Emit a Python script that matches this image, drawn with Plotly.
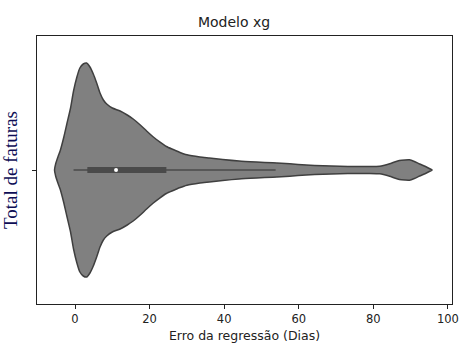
import plotly.graph_objects as go

# Violin outline: x (error, days) and half-width (density, px units)
dens_x = [-5.5, -5.2, -4.5, -4.0, -3.0, -2.2, -1.2, -0.4, 0.5, 1.3, 2.2, 3.1, 4.0, 4.9, 5.8,
          6.7, 7.6, 8.5, 10.0, 12.1, 14.0, 15.6, 17.5, 19.2, 21.0, 22.8, 24.5, 26.3, 28.0,
          30.0, 33.5, 36.0, 39.6, 44.0, 48.7, 53.0, 57.6, 62.0, 66.5, 71.0, 75.4, 79.0,
          81.7, 83.0, 84.4, 85.7, 87.0, 88.5, 89.7, 91.0, 92.4, 94.0, 95.8]
dens_w = [0, 6, 14, 19, 33, 46, 62, 79, 93, 102, 106, 107, 103, 96, 87,
          77, 70, 66, 62, 59, 55, 51, 45, 39, 33, 27.8, 23.5, 20.5, 17.8,
          15.2, 13, 12, 10.5, 9, 8, 7.2, 6.2, 5, 4.2, 3.7, 3.5, 3.5,
          3.8, 4.8, 6.2, 8, 9.5, 10.1, 10.2, 8.5, 6, 3.5, 0]

# Inner box statistics
whisker_lo, q1, median, q3, whisker_hi = -0.4, 3.3, 11.0, 24.5, 53.8

x_ticks = [0, 20, 40, 60, 80, 100]

poly_x = dens_x + dens_x[::-1]
poly_y = dens_w + [-w for w in dens_w[::-1]]

fig = go.Figure()
fig.add_trace(go.Scatter(
    x=poly_x, y=poly_y, mode="lines", fill="toself",
    fillcolor="#808080", line=dict(color="#3f3f3f", width=1.5, shape="spline", smoothing=0.6),
    hoverinfo="skip", showlegend=False))
fig.add_trace(go.Scatter(
    x=[whisker_lo, whisker_hi], y=[0, 0], mode="lines",
    line=dict(color="#4a4a4a", width=1.6), showlegend=False))
fig.add_trace(go.Scatter(
    x=[q1, q3], y=[0, 0], mode="lines",
    line=dict(color="#4a4a4a", width=6), showlegend=False))
fig.add_trace(go.Scatter(
    x=[median], y=[0], mode="markers",
    marker=dict(color="white", size=4, line=dict(width=0)), showlegend=False))

fig.update_layout(
    width=468, height=343,
    margin=dict(l=37, r=16, t=36, b=39),
    paper_bgcolor="white", plot_bgcolor="white",
    title=dict(text="Modelo xg", x=0.5, xanchor="center", y=1 - 22 / 343, yanchor="middle",
               font=dict(family="DejaVu Sans", size=14, color="#222222")),
    font=dict(family="DejaVu Sans", size=11.5, color="#222222"),
)
fig.update_xaxes(
    range=[-10.2, 101.1], tickvals=x_ticks, ticks="outside", ticklen=4, tickcolor="#222",
    showgrid=False, zeroline=False, showline=True, linecolor="#222", linewidth=1, mirror=True,
    automargin=False,
    title=dict(text="Erro da regressão (Dias)", font=dict(size=12.5)),
    tickfont=dict(size=11.5))
fig.update_yaxes(
    range=[-134, 134], tickvals=[0], ticktext=[""], ticks="outside", ticklen=4, tickcolor="#222",
    showgrid=False, zeroline=False, showline=True, linecolor="#222", linewidth=1, mirror=True,
    automargin=False,
    title=dict(text="Total de faturas",
               font=dict(family="Liberation Serif", size=19, color="#0d0d55")))

fig.write_html("out.html")
